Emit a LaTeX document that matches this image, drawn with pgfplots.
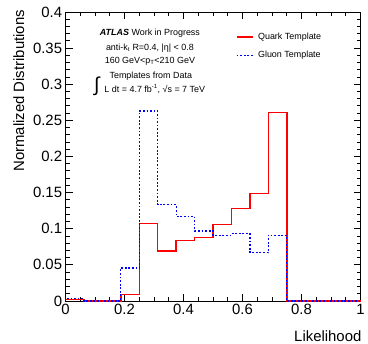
\documentclass[border=0pt]{standalone}
\usepackage{pgfplots}
\pgfplotsset{compat=1.18}
\usepackage{fontspec}
\setmainfont{Liberation Sans}
\definecolor{qred}{RGB}{255,0,0}
\definecolor{gblue}{RGB}{0,0,255}
\begin{document}
\begin{tikzpicture}
\begin{axis}[
  name=ax,
  scale only axis,
  width=297pt, height=291pt,
  xmin=0, xmax=1, ymin=0, ymax=0.4,
  clip=false,
  axis line style={black, line width=0.8pt},
  tick align=inside,
  major tick length=7pt,
  minor tick length=4pt,
  tick style={black, line width=0.8pt},
  xtick={0,0.2,0.4,0.6,0.8,1},
  minor x tick num=3,
  ytick={0,0.05,0.1,0.15,0.2,0.25,0.3,0.35,0.4},
  minor y tick num=4,
  /pgf/number format/assume math mode=true,
  /pgf/number format/fixed,
  /pgf/number format/precision=2,
  ticklabel style={font=\fontsize{15}{15}\selectfont},
]
\addplot[draw=qred, line width=1.5pt, const plot mark left] coordinates {
 (0,0) (0,0.002) (0.0625,0) (0.125,0) (0.1875,0.009) (0.25,0.1074)
 (0.3125,0.069) (0.375,0.0834) (0.4375,0.0876) (0.5,0.106) (0.5625,0.128)
 (0.625,0.1485) (0.6875,0.261) (0.75,0) (1,0)
};
\addplot[draw=gblue, line width=1.2pt, dash pattern=on 1.8pt off 1.8pt, const plot mark left] coordinates {
 (0,0) (0,0.003) (0.0625,0) (0.125,0) (0.1875,0.0456) (0.25,0.263)
 (0.3125,0.133) (0.375,0.117) (0.4375,0.0968) (0.5,0.091) (0.5625,0.093)
 (0.625,0.067) (0.6875,0.091) (0.75,0) (1,0)
};
\draw[qred, line width=1.5pt] (rel axis cs:0.58,0.914) -- (rel axis cs:0.637,0.914);
\node[anchor=west, font=\fontsize{9}{10}\selectfont, inner sep=0pt] at (rel axis cs:0.652,0.914) {Quark Template};
\draw[gblue, line width=1.2pt, dash pattern=on 1.8pt off 1.8pt] (rel axis cs:0.58,0.849) -- (rel axis cs:0.637,0.849);
\node[anchor=west, font=\fontsize{9}{10}\selectfont, inner sep=0pt] at (rel axis cs:0.652,0.849) {Gluon Template};
\node[font=\fontsize{9}{10}\selectfont] at (rel axis cs:0.286,0.928) {\textbf{\textit{ATLAS}} Work in Progress};
\node[font=\fontsize{9}{10}\selectfont] at (rel axis cs:0.286,0.876) {anti-k\textsubscript{t} R=0.4, |η| < 0.8};
\node[font=\fontsize{9}{10}\selectfont] at (rel axis cs:0.286,0.828) {160 GeV<p\textsubscript{T}<210 GeV};
\node[font=\fontsize{9}{10}\selectfont] at (rel axis cs:0.289,0.777) {Templates from Data};
\node[font=\fontsize{9}{10}\selectfont, anchor=west] at (rel axis cs:0.12,0.732) {L dt = 4.7 fb\textsuperscript{-1}, √s = 7 TeV};
\node[font=\fontsize{20}{20}\selectfont, anchor=center, inner sep=0pt] at (rel axis cs:0.106,0.742) {∫};
\end{axis}
\node[rotate=90, anchor=east, font=\fontsize{15}{15}\selectfont, inner sep=0pt] at ([xshift=-47pt, yshift=2pt]ax.north west) {Normalized Distributions};
\node[anchor=base east, font=\fontsize{15}{15}\selectfont, inner sep=0pt] at ([xshift=1pt, yshift=-41pt]ax.south east) {Likelihood};
\path ([xshift=-66pt, yshift=-43pt]ax.south west) ([xshift=5pt, yshift=12pt]ax.north east);
\end{tikzpicture}
\end{document}
